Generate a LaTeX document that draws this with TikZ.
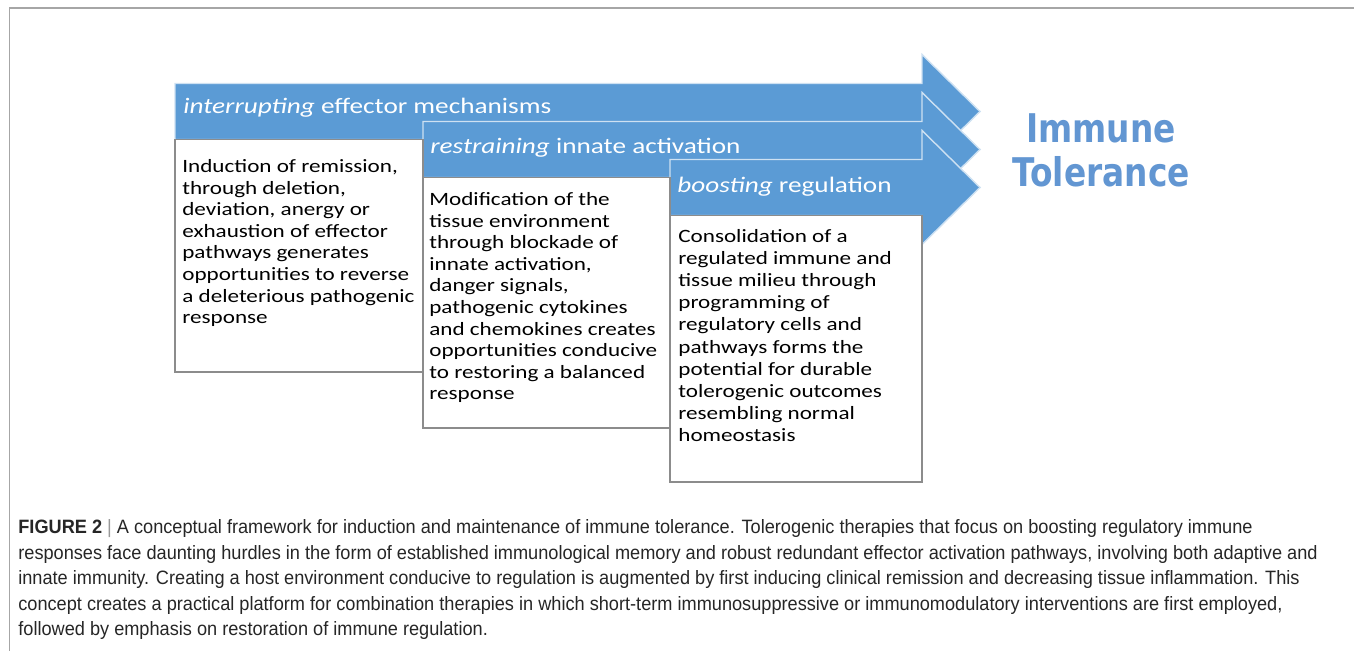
\documentclass[tikz,border=0pt]{standalone}
\usepackage{fontspec}
\setmainfont{Liberation Sans}
\newfontfamily\smartfont[FakeStretch=1.23]{Carlito}
\newfontfamily\goalfont[FakeStretch=0.83]{DejaVu Sans}
\newfontfamily\capfont[FakeStretch=0.94]{Liberation Sans}
\definecolor{flowblue}{HTML}{5B9BD5}
\definecolor{goalblue}{RGB}{98,150,210}

\begin{document}
\begin{tikzpicture}[x=0.02cm,y=-0.02cm]
\tikzset{
    flow/.style={fill=flowblue, draw=white!70!flowblue, line width=.8pt},
    flow label/.style={anchor=west, inner sep=0pt, text=white,
        font=\smartfont\fontsize{12.6}{15}\selectfont},
    card/.style={fill=white, draw=black!45, line width=.7pt},
    card text/.style={anchor=north west, inner sep=0pt, align=left,
        font=\smartfont\fontsize{10.7}{12.3}\selectfont},
    goal/.style={align=center, inner sep=0pt, text=goalblue,
        font=\goalfont\bfseries\fontsize{22.5}{25}\selectfont},
    caption text/.style={anchor=north west, inner sep=0pt, align=left,
        font=\capfont\fontsize{11}{14.6}\selectfont, text=black!85},
    frame line/.style={draw=black!35, line width=1pt}}
\def\xhead{922}
\def\xtip{980}
\def\hbody{28}
\def\hhead{57}

\useasboundingbox (0,0) rectangle (1354,651);
\draw[frame line] (9.5,651)--(9.5,8)--(1354,8);

\foreach \xl/\yc in {175/111.5,423/149.5,670/187.5}{
    \draw[flow] (\xl,\yc-\hbody)--(\xhead,\yc-\hbody)--(\xhead,\yc-\hhead)--(\xtip,\yc)
        --(\xhead,\yc+\hhead)--(\xhead,\yc+\hbody)--(\xl,\yc+\hbody)--cycle;
}

\node[flow label] (interrupt) at (183,108) {\textit{interrupting} effector mechanisms};
\node[flow label] (restrain) at (430,148) {\textit{restraining} innate activation};
\node[flow label] (boost) at (677,187) {\textit{boosting} regulation};

\draw[card] (175,139.5) rectangle (423,372);
\draw[card] (423,177.5) rectangle (670,428);
\draw[card] (670,215.5) rectangle (922,482);

\node[card text] (induction) at (182,159) {Induction of remission,\\through deletion,\\deviation, anergy or\\exhaustion of effector\\pathways generates\\opportunities to reverse\\a deleterious pathogenic\\response};
\node[card text] (modification) at (429,192) {Modification of the\\tissue environment\\through blockade of\\innate activation,\\danger signals,\\pathogenic cytokines\\and chemokines creates\\opportunities conducive\\to restoring a balanced\\response};
\node[card text, font=\smartfont\fontsize{10.7}{12.6}\selectfont] (consolidation) at (678,229) {Consolidation of a\\regulated immune and\\tissue milieu through\\programming of\\regulatory cells and\\pathways forms the\\potential for durable\\tolerogenic outcomes\\resembling normal\\homeostasis};

\node[goal] (tolerance) at (1101,150) {Immune\\Tolerance};

\node[caption text] (caption) at (18,519) {\textbf{FIGURE 2} {\color{black!40}|} A conceptual framework for induction and maintenance of immune tolerance. Tolerogenic therapies that focus on boosting regulatory immune\\responses face daunting hurdles in the form of established immunological memory and robust redundant effector activation pathways, involving both adaptive and\\innate immunity. Creating a host environment conducive to regulation is augmented by first inducing clinical remission and decreasing tissue inflammation. This\\concept creates a practical platform for combination therapies in which short-term immunosuppressive or immunomodulatory interventions are first employed,\\followed by emphasis on restoration of immune regulation.};
\end{tikzpicture}
\end{document}
